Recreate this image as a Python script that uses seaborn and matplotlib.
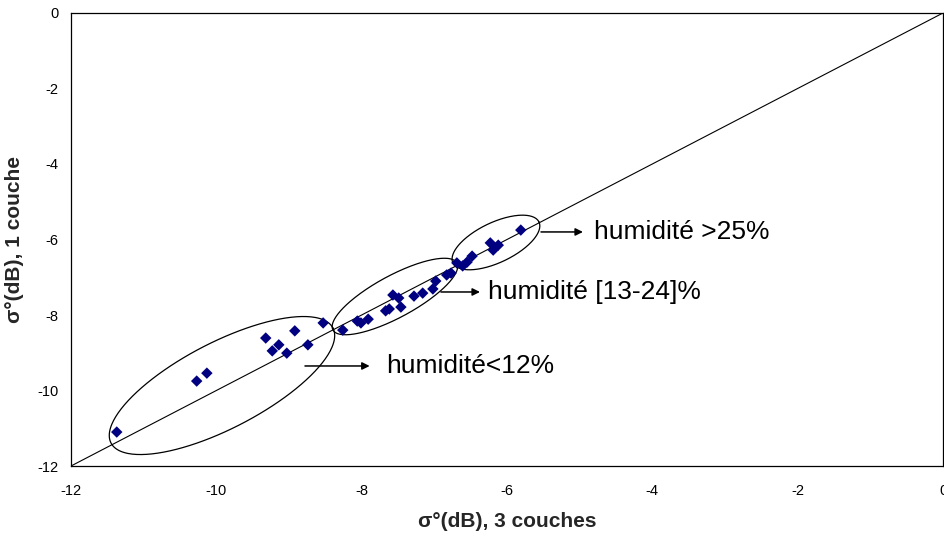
import numpy as np
import pandas as pd
import matplotlib
matplotlib.use("Agg")
import matplotlib.pyplot as plt
import seaborn as sns

# sigma0 (dB) computed with the 3-layer model vs the 1-layer model
sigma_3couches = [-11.37, -10.27, -10.13, -9.32, -9.23, -9.14, -9.03, -8.92, -8.74,
                  -8.53, -8.26, -8.06, -8.01, -7.91, -7.67, -7.62, -7.57, -7.49,
                  -7.46, -7.28, -7.16, -7.02, -6.98, -6.83, -6.77, -6.69, -6.61,
                  -6.55, -6.48, -6.23, -6.19, -6.12, -5.81]
sigma_1couche = [-11.10, -9.75, -9.54, -8.61, -8.95, -8.79, -9.01, -8.42, -8.79,
                 -8.21, -8.40, -8.16, -8.21, -8.11, -7.89, -7.84, -7.47, -7.55,
                 -7.79, -7.50, -7.42, -7.31, -7.10, -6.94, -6.89, -6.62, -6.70,
                 -6.60, -6.44, -6.09, -6.28, -6.15, -5.75]

axis_ticks = [-12, -10, -8, -6, -4, -2, 0]

# humidity groups: label, ellipse centre, major and minor semi-diameters (data units),
# arrow start/end and label anchor
group_labels = ["humidité<12%", "humidité [13-24]%", "humidité >25%"]
ellipse_centres = [(-9.922, -9.868), (-7.542, -7.510), (-6.152, -6.079)]
ellipse_major = [(1.527, 1.523), (0.853, 0.887), (0.592, 0.543)]
ellipse_minor = [(-0.272, 1.011), (-0.137, 0.490), (-0.119, 0.478)]
arrow_x0 = [-8.78, -6.909, -5.532]
arrow_x1 = [-7.89, -6.372, -4.955]
arrow_y = [-9.35, -7.39, -5.80]
label_x = [-7.66, -6.262, -4.80]

df = pd.DataFrame({"x": sigma_3couches, "y": sigma_1couche})

sns.set_style("white")
plt.rcParams["font.family"] = ["Liberation Sans", "DejaVu Sans"]
plt.rcParams["axes.unicode_minus"] = False

fig = plt.figure(figsize=(9.45, 5.34), dpi=100)
ax = fig.add_axes([0.0751, 0.1273, 0.9228, 0.8484])

# 1:1 line
ax.plot([axis_ticks[0], axis_ticks[-1]], [axis_ticks[0], axis_ticks[-1]],
        color="black", lw=0.8, zorder=1)

sns.scatterplot(data=df, x="x", y="y", ax=ax, marker="D", s=34,
                color="#000080", edgecolor="none", zorder=3)

t = np.linspace(0, 2 * np.pi, 300)
for (cx, cy), (ux, uy), (vx, vy) in zip(ellipse_centres, ellipse_major, ellipse_minor):
    ex = cx + ux * np.cos(t) + vx * np.sin(t)
    ey = cy + uy * np.cos(t) + vy * np.sin(t)
    ax.plot(ex, ey, color="black", lw=0.9, zorder=2)

for lab, x0, x1, y, lx in zip(group_labels, arrow_x0, arrow_x1, arrow_y, label_x):
    ax.annotate("", xy=(x1, y), xytext=(x0, y),
                arrowprops=dict(arrowstyle="-|>", color="black", lw=1.1,
                                mutation_scale=11, shrinkA=0, shrinkB=0))
    ax.text(lx, y, lab, fontsize=19, va="center", ha="left", color="black")

ax.set_xlim(-12, 0)
ax.set_ylim(-12, 0)
ax.set_xticks(axis_ticks)
ax.set_yticks(axis_ticks)
ax.tick_params(axis="both", direction="out", length=5, width=0.8,
               labelsize=10.5, colors="black")
ax.tick_params(axis="x", pad=8)
ax.tick_params(axis="y", pad=4)
for sp in ax.spines.values():
    sp.set_visible(True)
    sp.set_color("black")
    sp.set_linewidth(0.9)

ax.set_xlabel("σ°(dB), 3 couches", fontsize=15, fontweight="bold")
ax.set_ylabel("σ°(dB), 1 couche", fontsize=15, fontweight="bold")
ax.xaxis.set_label_coords(0.5, -0.102)
ax.yaxis.set_label_coords(-0.054, 0.5)

fig.savefig("out.png", dpi=100)
